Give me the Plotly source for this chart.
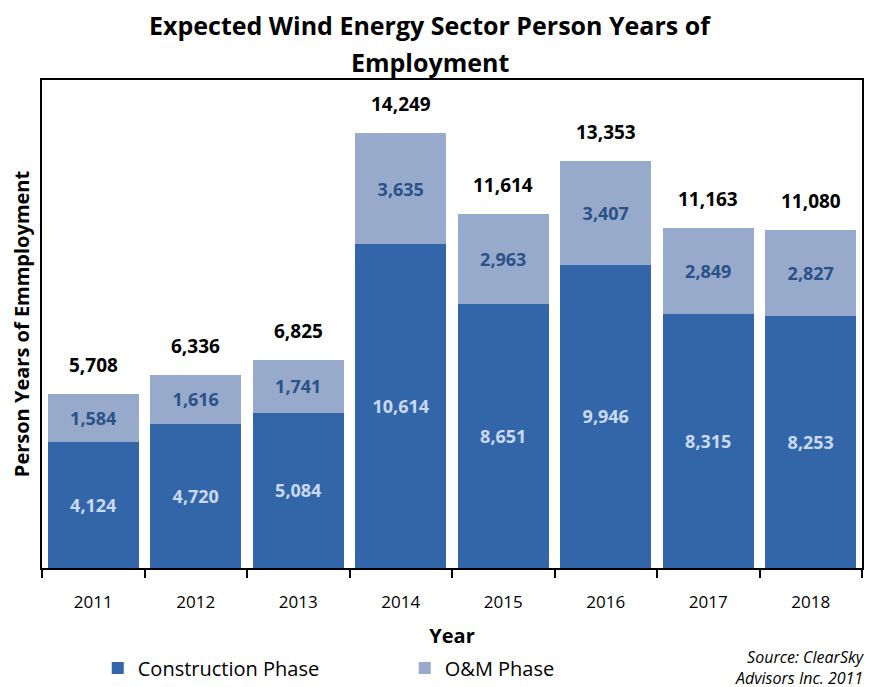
import plotly.graph_objects as go

years = ["2011", "2012", "2013", "2014", "2015", "2016", "2017", "2018"]
construction = [4124, 4720, 5084, 10614, 8651, 9946, 8315, 8253]
om = [1584, 1616, 1741, 3635, 2963, 3407, 2849, 2827]
totals = [5708, 6336, 6825, 14249, 11614, 13353, 11163, 11080]
title_lines = ["Expected Wind Energy Sector Person Years of", "Employment"]

FONT = "Open Sans"

fig = go.Figure()
fig.add_trace(go.Bar(
    x=years, y=construction, name="Construction Phase",
    marker=dict(color="#3366A8", line=dict(width=0)),
    text=[f"<b>{v:,}</b>" for v in construction], textposition="inside",
    insidetextanchor="middle", textangle=0,
    textfont=dict(family=FONT, size=18, color="#C9D9F1"),
))
fig.add_trace(go.Bar(
    x=years, y=om, name="O&M Phase",
    marker=dict(color="#97AACB", line=dict(width=0)),
    text=[f"<b>{v:,}</b>" for v in om], textposition="inside",
    insidetextanchor="middle", textangle=0,
    textfont=dict(family=FONT, size=18, color="#2B5288"),
))

for i, t in enumerate(totals):
    fig.add_annotation(xref="x", yref="y", x=i, y=t, text=f"<b>{t:,}</b>",
                       showarrow=False, yshift=29,
                       font=dict(family=FONT, size=19, color="#000000"))

for line, ypos in zip(title_lines, [1.1127, 1.0369]):
    fig.add_annotation(xref="paper", yref="paper", x=(430 - 42) / 820, y=ypos,
                       text=f"<b>{line}</b>", showarrow=False,
                       xanchor="center", yanchor="middle",
                       font=dict(family=FONT, size=25, color="#000000"))

fig.add_annotation(xref="paper", yref="paper", x=1.006, y=-0.156,
                   text="<i>Source: ClearSky</i><br><i>Advisors Inc. 2011</i>",
                   showarrow=False, xanchor="right", yanchor="top", align="right",
                   font=dict(family=FONT, size=16, color="#000000"))

fig.update_layout(
    width=869, height=679,
    margin=dict(l=34, r=15, t=72, b=119, autoexpand=False),
    barmode="stack", bargap=0.11,
    paper_bgcolor="white", plot_bgcolor="white",
    font=dict(family=FONT, color="#000000"),
    xaxis=dict(type="category", range=[-0.5, 7.5], showline=True, linecolor="#000000",
               linewidth=1.5, mirror=True, ticks="outside", tickson="boundaries",
               ticklen=8, tickcolor="#000000", tickwidth=1.5, tickangle=0,
               ticklabelstandoff=18,
               tickfont=dict(family=FONT, size=17), automargin=False,
               title=dict(text="<b>Year</b>", font=dict(family=FONT, size=20), standoff=17)),
    yaxis=dict(range=[0, 16000], showline=True, linecolor="#000000", linewidth=1.5,
               mirror=True, showgrid=False, showticklabels=False, ticks="",
               zeroline=False, automargin=False,
               title=dict(text="<b>Person Years of Emmployment</b>",
                          font=dict(family=FONT, size=20), standoff=12)),
    legend=dict(orientation="h", x=0.068, y=-0.205, xanchor="left", yanchor="middle",
                entrywidth=262, itemwidth=30, font=dict(family=FONT, size=20),
                traceorder="normal"),
    showlegend=True,
)

fig.write_html("out.html")
